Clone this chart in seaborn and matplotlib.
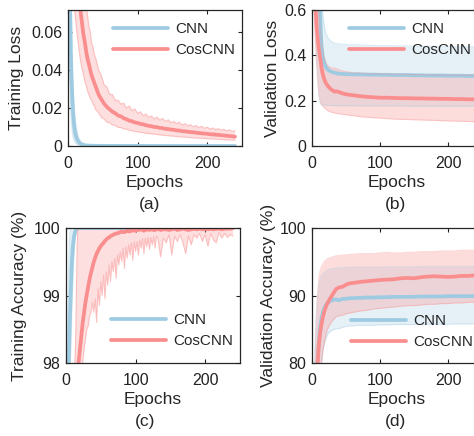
import numpy as np
import matplotlib
matplotlib.use("Agg")
import matplotlib.pyplot as plt
import seaborn as sns

# ---- data ----
# (a) training loss
a_cnn_ep = [1, 2, 3, 4, 5, 6, 7, 8, 9, 10, 12, 14, 16, 18, 20, 24, 30, 40, 60, 100, 150, 200, 240]
a_cnn_mean = [0.25, 0.14, 0.075, 0.050, 0.036, 0.026, 0.019, 0.014, 0.010, 0.0075, 0.0045, 0.0028, 0.0018,
              0.0012, 0.0008, 0.0004, 0.0002, 0.0001, 0.00005, 0.00003, 0.00002, 0.00002, 0.00001]
a_cnn_up = [0.40, 0.25, 0.15, 0.095, 0.068, 0.050, 0.037, 0.028, 0.021, 0.016, 0.010, 0.0062, 0.0040,
            0.0027, 0.0018, 0.0009, 0.0004, 0.0002, 0.0001, 0.00006, 0.00004, 0.00004, 0.00003]
a_cnn_lo = [0.12, 0.065, 0.030, 0.018, 0.012, 0.008, 0.005, 0.0035, 0.0025, 0.0018, 0.0010, 0.0006, 0.0004,
            0.0002, 0.0001, 0.00005, 0.00003, 0.00002, 0.00001, 0.0, 0.0, 0.0, 0.0]

a_cos_ep = [1, 4, 8, 12, 16, 18, 20, 22, 24, 26, 28, 30, 32, 34, 36, 38,
            40, 44, 48, 52, 56, 60, 64, 68, 72, 76, 80, 84, 88, 92, 96, 100,
            104, 108, 112, 116, 120, 124, 128, 132, 136, 140, 144, 148, 152, 156, 160,
            164, 168, 172, 176, 180, 184, 188, 192, 196, 200, 204, 208, 212, 216, 220,
            224, 228, 232, 236, 240]
a_cos_mean = [0.200, 0.160, 0.120, 0.095, 0.078, 0.071, 0.065, 0.059, 0.055, 0.050, 0.046, 0.043, 0.040, 0.037, 0.035, 0.033,
              0.031, 0.027, 0.0245, 0.0222, 0.0205, 0.0192, 0.0180, 0.0172, 0.0160, 0.0156, 0.0146, 0.0141, 0.0133, 0.0130, 0.0124, 0.0121,
              0.0116, 0.0114, 0.0109, 0.0106, 0.0104, 0.0100, 0.0099, 0.0095, 0.0094, 0.0090, 0.0089, 0.0086, 0.0085, 0.0082, 0.0081,
              0.0078, 0.0077, 0.0075, 0.0073, 0.0072, 0.0070, 0.0068, 0.0067, 0.0065, 0.0064, 0.0062, 0.0061, 0.0060, 0.0058, 0.0057,
              0.0055, 0.0054, 0.0052, 0.0051, 0.0049]
a_cos_up = [0.290, 0.232, 0.174, 0.140, 0.115, 0.105, 0.096, 0.088, 0.080, 0.074, 0.069, 0.063, 0.060, 0.054, 0.052, 0.048,
            0.046, 0.040, 0.037, 0.032, 0.031, 0.027, 0.027, 0.024, 0.024, 0.022, 0.0225, 0.020, 0.021, 0.0185, 0.0195, 0.0172,
            0.0180, 0.0160, 0.0168, 0.0150, 0.0158, 0.0142, 0.0152, 0.0136, 0.0145, 0.0128, 0.0138, 0.0122, 0.0130, 0.0117, 0.0125,
            0.0110, 0.0118, 0.0106, 0.0112, 0.0101, 0.0108, 0.0097, 0.0104, 0.0093, 0.0099, 0.0089, 0.0095, 0.0086, 0.0091, 0.0083,
            0.0088, 0.0079, 0.0085, 0.0076, 0.0080]
a_cos_lo = [0.125, 0.100, 0.078, 0.062, 0.050, 0.045, 0.041, 0.038, 0.034, 0.032, 0.029, 0.027, 0.025, 0.024, 0.022, 0.021,
            0.019, 0.0175, 0.015, 0.0142, 0.0125, 0.0122, 0.0110, 0.0108, 0.0098, 0.0097, 0.0090, 0.0088, 0.0082, 0.0081, 0.0076, 0.0075,
            0.0071, 0.0070, 0.0066, 0.0066, 0.0063, 0.0062, 0.0060, 0.0058, 0.0057, 0.0055, 0.0054, 0.0052, 0.0052, 0.0049, 0.0049,
            0.0047, 0.0047, 0.0045, 0.0044, 0.0043, 0.0042, 0.0041, 0.0040, 0.0039, 0.0038, 0.0037, 0.0037, 0.0036, 0.0035, 0.0034,
            0.0033, 0.0032, 0.0032, 0.0031, 0.0030]

# (b) validation loss
b_ep = [1, 3, 5, 6, 7, 8, 9, 10, 11, 12, 13, 14, 16, 18, 20, 22, 24, 26, 28, 30, 33, 36, 40, 45, 50, 55, 60,
        70, 80, 90, 100, 110, 120, 130, 140, 150, 160, 170, 180, 190, 200, 210, 220, 230, 240]
b_cnn_mean = [1.30, 1.10, 0.95, 0.90, 0.86, 0.82, 0.78, 0.75, 0.66, 0.58, 0.50, 0.44, 0.39, 0.365, 0.350, 0.341, 0.335, 0.331, 0.328, 0.326, 0.323, 0.321, 0.319, 0.318, 0.317, 0.317, 0.316,
              0.316, 0.315, 0.315, 0.314, 0.314, 0.313, 0.313, 0.313, 0.312, 0.312, 0.311, 0.311, 0.311, 0.310, 0.310, 0.310, 0.309, 0.309]
b_cnn_up = [1.60, 1.40, 1.20, 1.15, 1.10, 1.05, 1.00, 0.98, 0.95, 0.90, 0.78, 0.66, 0.58, 0.53, 0.500, 0.485, 0.475, 0.468, 0.462, 0.458, 0.455, 0.452, 0.450, 0.449, 0.448, 0.447, 0.447,
            0.446, 0.445, 0.444, 0.443, 0.443, 0.442, 0.442, 0.441, 0.441, 0.440, 0.440, 0.440, 0.439, 0.439, 0.439, 0.438, 0.438, 0.438]
b_cnn_lo = [1.00, 0.70, 0.50, 0.44, 0.38, 0.32, 0.27, 0.23, 0.20, 0.19, 0.185, 0.182, 0.180, 0.180, 0.180, 0.179, 0.179, 0.179, 0.179, 0.179, 0.178, 0.178, 0.178, 0.178, 0.178, 0.178, 0.178,
            0.177, 0.177, 0.177, 0.177, 0.177, 0.177, 0.177, 0.176, 0.176, 0.176, 0.176, 0.176, 0.176, 0.176, 0.176, 0.176, 0.176, 0.176]
b_cos_mean = [1.20, 0.85, 0.65, 0.57, 0.52, 0.49, 0.455, 0.43, 0.41, 0.39, 0.37, 0.345, 0.315, 0.295, 0.280, 0.270, 0.262, 0.256, 0.250, 0.246, 0.240, 0.241, 0.238, 0.232, 0.228, 0.226, 0.224,
              0.220, 0.217, 0.215, 0.213, 0.213, 0.212, 0.211, 0.211, 0.210, 0.210, 0.209, 0.209, 0.208, 0.208, 0.207, 0.207, 0.206, 0.206]
b_cos_up = [1.50, 1.10, 0.90, 0.82, 0.76, 0.70, 0.65, 0.60, 0.56, 0.52, 0.49, 0.46, 0.42, 0.39, 0.370, 0.360, 0.352, 0.348, 0.345, 0.342, 0.345, 0.340, 0.336, 0.332, 0.328, 0.326, 0.324,
            0.322, 0.320, 0.319, 0.318, 0.317, 0.317, 0.316, 0.316, 0.315, 0.315, 0.314, 0.314, 0.313, 0.313, 0.313, 0.312, 0.312, 0.312]
b_cos_lo = [0.90, 0.60, 0.45, 0.40, 0.35, 0.30, 0.27, 0.24, 0.22, 0.20, 0.19, 0.185, 0.175, 0.168, 0.162, 0.158, 0.155, 0.152, 0.150, 0.148, 0.146, 0.144, 0.142, 0.140, 0.138, 0.136, 0.134,
            0.130, 0.127, 0.125, 0.123, 0.121, 0.119, 0.118, 0.117, 0.116, 0.115, 0.114, 0.113, 0.112, 0.111, 0.110, 0.109, 0.108, 0.107]

# (c) training accuracy
c_cnn_ep = [1, 2, 3, 4, 5, 6, 7, 8, 9, 10, 11, 12, 13, 14, 16, 18, 20, 30, 60, 120, 240]
c_cnn_mean = [94.0, 96.0, 97.3, 98.0, 98.45, 98.8, 99.1, 99.4, 99.6, 99.75, 99.84, 99.9, 99.94, 99.97, 99.99,
              100.0, 100.0, 100.0, 100.0, 100.0, 100.0]
c_cnn_up = [97.0, 98.2, 99.0, 99.55, 99.85, 99.97, 100.0, 100.0, 100.0, 100.0, 100.0, 100.0, 100.0, 100.0, 100.0,
            100.0, 100.0, 100.0, 100.0, 100.0, 100.0]
c_cnn_lo = [91.0, 93.5, 95.5, 96.6, 97.3, 97.8, 98.2, 98.6, 98.95, 99.25, 99.5, 99.65, 99.78, 99.88, 99.95,
            99.99, 100.0, 100.0, 100.0, 100.0, 100.0]

c_cos_ep = [1, 6, 10, 12, 14, 15, 16, 17, 18, 19, 20, 21, 22, 23, 24, 26, 28, 30, 32, 34, 36, 38,
            40, 42, 44, 46, 48, 50, 52, 54, 56, 58, 60, 62, 64, 66, 68, 70, 72, 74, 76, 78, 80, 82, 84,
            86, 88, 90, 92, 94, 96, 98, 100, 102, 104, 106, 108, 110, 112, 114, 116, 118, 120, 122, 124,
            126, 128, 130,
            132, 136, 140, 144, 148, 152, 156, 160, 164, 168, 172, 176, 180, 184, 188, 192, 196, 200,
            204, 208, 212, 216, 220, 224, 228, 232, 236, 240]
c_cos_mean = [90.0, 95.0, 96.5, 97.1, 97.5, 97.65, 97.8, 97.9, 98.0, 98.1, 98.2, 98.3, 98.4, 98.5, 98.6, 98.75, 98.9, 99.02, 99.14, 99.25, 99.34, 99.42,
              99.5, 99.56, 99.62, 99.66, 99.7, 99.73, 99.76, 99.78, 99.81, 99.83, 99.85, 99.86, 99.88, 99.89, 99.9, 99.91, 99.92, 99.92, 99.93, 99.94, 99.95, 99.94, 99.94,
              99.95, 99.96, 99.95, 99.95, 99.96, 99.97, 99.96, 99.96, 99.97, 99.97, 99.98, 99.98, 99.97, 99.96, 99.97, 99.98, 99.98, 99.97, 99.98, 99.98,
              99.97, 99.97, 99.98,
              99.99, 99.97, 99.98, 99.98, 99.97, 99.98, 99.99, 99.97, 99.98, 99.99, 99.98, 99.97, 99.98, 99.99, 99.98, 99.99, 99.98, 99.99,
              99.98, 99.99, 99.98, 99.99, 99.99, 99.98, 99.99, 99.99, 99.99, 100.0]
c_cos_up = [95.0, 97.0, 97.4, 97.8, 98.4, 99.1, 99.7, 100.0, 100.0, 100.0, 100.0, 100.0, 100.0, 100.0, 100.0, 100.0, 100.0, 100.0, 100.0, 100.0, 100.0, 100.0,
            100.0, 100.0, 100.0, 100.0, 100.0, 100.0, 100.0, 100.0, 100.0, 100.0, 100.0, 100.0, 100.0, 100.0, 100.0, 100.0, 100.0, 100.0, 100.0, 100.0, 100.0, 100.0, 100.0,
            100.0, 100.0, 100.0, 100.0, 100.0, 100.0, 100.0, 100.0, 100.0, 100.0, 100.0, 100.0, 100.0, 100.0, 100.0, 100.0, 100.0, 100.0, 100.0, 100.0,
            100.0, 100.0, 100.0,
            100.0, 100.0, 100.0, 100.0, 100.0, 100.0, 100.0, 100.0, 100.0, 100.0, 100.0, 100.0, 100.0, 100.0, 100.0, 100.0, 100.0, 100.0,
            100.0, 100.0, 100.0, 100.0, 100.0, 100.0, 100.0, 100.0, 100.0, 100.0]
c_cos_lo = [80.0, 90.0, 93.0, 94.0, 95.0, 95.5, 96.0, 96.4, 96.7, 97.0, 97.2, 97.4, 97.6, 97.8, 98.0, 98.2, 98.35, 98.5, 98.55, 98.7, 98.75, 98.9,
            98.75, 98.95, 98.6, 99.1, 98.85, 99.2, 99.0, 99.3, 98.95, 99.35, 99.15, 99.45, 99.2, 99.5, 99.35, 99.55, 99.25, 99.6, 99.45, 99.65, 99.5, 99.7, 99.4,
            99.72, 99.55, 99.75, 99.6, 99.78, 99.52, 99.8, 99.65, 99.8, 99.6, 99.82, 99.7, 99.84, 99.62, 99.85, 99.72, 99.86, 99.68, 99.86, 99.75,
            99.87, 99.7, 99.88,
            99.85, 99.57, 99.85, 99.78, 99.9, 99.6, 99.88, 99.8, 99.9, 99.78, 99.62, 99.88, 99.75, 99.9, 99.85, 99.92, 99.8, 99.9,
            99.73, 99.92, 99.82, 99.78, 99.93, 99.85, 99.92, 99.86, 99.9, 99.88]

# (d) validation accuracy
d_ep = [1, 4, 6, 8, 10, 12, 14, 16, 18, 20, 22, 24, 27, 30, 33, 36, 40, 45, 50, 55, 60,
        70, 80, 90, 100, 110, 120, 130, 140, 150, 160, 170, 180, 190, 200, 210, 220, 230, 240]
d_cnn_mean = [55.0, 70.0, 76.0, 80.0, 83.0, 85.3, 86.6, 87.5, 88.1, 88.5, 88.8, 89.0, 89.2, 89.3, 89.4, 89.4, 89.3, 89.5, 89.5, 89.6, 89.6,
              89.65, 89.7, 89.7, 89.75, 89.75, 89.8, 89.8, 89.8, 89.8, 89.85, 89.85, 89.85, 89.85, 89.9, 89.9, 89.9, 89.9, 89.9]
d_cnn_up = [70.0, 82.0, 87.0, 90.0, 91.5, 92.4, 92.9, 93.2, 93.4, 93.6, 93.7, 93.8, 93.9, 94.0, 94.0, 94.1, 94.1, 94.1, 94.15, 94.2, 94.2,
            94.2, 94.2, 94.2, 94.2, 94.25, 94.25, 94.25, 94.25, 94.25, 94.3, 94.3, 94.3, 94.3, 94.3, 94.3, 94.3, 94.3, 94.3]
d_cnn_lo = [40.0, 58.0, 65.0, 70.0, 74.5, 78.0, 80.3, 81.8, 82.8, 83.5, 84.0, 84.4, 84.7, 84.9, 85.0, 85.1, 85.1, 85.3, 85.4, 85.5, 85.5,
            85.6, 85.6, 85.6, 85.65, 85.65, 85.7, 85.7, 85.7, 85.7, 85.7, 85.75, 85.75, 85.75, 85.75, 85.8, 85.8, 85.8, 85.8]
d_cos_mean = [50.0, 68.0, 75.0, 79.5, 82.6, 84.5, 85.8, 86.8, 87.6, 88.2, 88.7, 89.1, 89.6, 90.1, 90.6, 91.0, 91.2, 91.3, 91.6, 91.8, 91.85,
              92.0, 92.1, 92.2, 92.3, 92.35, 92.4, 92.55, 92.6, 92.55, 92.7, 92.8, 92.85, 92.8, 92.75, 92.8, 92.9, 92.9, 93.0]
d_cos_up = [60.0, 78.0, 85.0, 89.5, 92.5, 93.7, 94.3, 94.7, 95.0, 95.2, 95.4, 95.5, 95.6, 95.7, 95.8, 95.9, 95.9, 96.0, 96.0, 96.1, 96.1,
            96.2, 96.2, 96.2, 96.3, 96.4, 96.3, 96.3, 96.4, 96.4, 96.5, 96.5, 96.5, 96.6, 96.6, 96.6, 96.7, 96.7, 96.7]
d_cos_lo = [40.0, 58.0, 65.0, 70.0, 74.0, 77.5, 80.0, 81.8, 83.0, 84.0, 84.8, 85.3, 85.8, 86.3, 86.6, 86.9, 87.0, 87.1, 87.3, 87.4, 87.5,
            87.7, 87.8, 88.0, 88.1, 88.2, 88.3, 88.4, 88.5, 88.5, 88.6, 88.7, 88.7, 88.8, 88.8, 88.9, 88.9, 89.0, 89.0]

x_ticks = [0, 100, 200]

#---------------------------------------------
sns.set_style("ticks")
plt.rcParams['font.family'] = ['Liberation Sans', 'DejaVu Sans']
plt.rcParams['axes.unicode_minus'] = False

CNN_C = "#9ecbe2"
COS_C = "#fa8e8e"


def draw_band(ax, ep, mean, up, lo, color, label, fill_alpha, edge_alpha):
    ax.fill_between(ep, lo, up, color=color, alpha=fill_alpha, linewidth=0)
    ax.plot(ep, up, color=color, alpha=edge_alpha, lw=0.8)
    ax.plot(ep, lo, color=color, alpha=edge_alpha, lw=0.8)
    sns.lineplot(x=ep, y=mean, ax=ax, color=color, lw=2.7, label=label)


def style_axis(ax, ylim, yticks, yticklabels, ylabel, ylabel_x, caption, cap_x, leg_xy):
    ax.set_xlim(0, 250)
    ax.set_ylim(*ylim)
    ax.set_xticks(x_ticks)
    ax.set_xticklabels([str(t) for t in x_ticks])
    ax.set_yticks(yticks)
    ax.set_yticklabels(yticklabels)
    ax.tick_params(direction='in', top=True, right=True, length=3, width=0.8,
                   labelsize=11.5, colors='#222222')
    ax.tick_params(axis='x', pad=7)
    ax.tick_params(axis='y', pad=4)
    for s in ax.spines.values():
        s.set_color('#262626')
        s.set_linewidth(0.9)
    ax.set_xlabel('Epochs', fontsize=12.5, labelpad=3)
    ax.set_ylabel(ylabel, fontsize=12.5)
    ax.yaxis.set_label_coords(ylabel_x, 0.5)
    ax.text(cap_x, -0.43, caption, transform=ax.transAxes, ha='center', va='center', fontsize=12.5)
    ax.legend(loc='upper left', bbox_to_anchor=leg_xy, frameon=False, fontsize=11,
              handlelength=3.6, handletextpad=0.45, labelspacing=0.45,
              borderaxespad=0, borderpad=0)


fig = plt.figure(figsize=(4.74, 4.36), dpi=100)
W, H = 474.0, 436.0
ax_a = fig.add_axes([68 / W, 1 - 146 / H, 174 / W, 136 / H])
ax_b = fig.add_axes([312 / W, 1 - 146 / H, 170 / W, 136 / H])
ax_c = fig.add_axes([66 / W, 1 - 363 / H, 174 / W, 135 / H])
ax_d = fig.add_axes([312 / W, 1 - 363 / H, 170 / W, 135 / H])

# (a)
draw_band(ax_a, a_cnn_ep, a_cnn_mean, a_cnn_up, a_cnn_lo, CNN_C, 'CNN', 0.25, 0.35)
draw_band(ax_a, a_cos_ep, a_cos_mean, a_cos_up, a_cos_lo, COS_C, 'CosCNN', 0.28, 0.5)
style_axis(ax_a, (0, 0.0715), [0, 0.02, 0.04, 0.06], ['0', '0.02', '0.04', '0.06'],
           'Training Loss', -0.25, '(a)', 0.47, (0.26, 0.91))

# (b)
draw_band(ax_b, b_ep, b_cnn_mean, b_cnn_up, b_cnn_lo, CNN_C, 'CNN', 0.25, 0.35)
draw_band(ax_b, b_ep, b_cos_mean, b_cos_up, b_cos_lo, COS_C, 'CosCNN', 0.3, 0.35)
style_axis(ax_b, (0, 0.6), [0, 0.2, 0.4, 0.6], ['0', '0.2', '0.4', '0.6'],
           'Validation Loss', -0.19, '(b)', 0.494, (0.22, 0.91))

# (c)
draw_band(ax_c, c_cnn_ep, c_cnn_mean, c_cnn_up, c_cnn_lo, CNN_C, 'CNN', 0.25, 0.35)
draw_band(ax_c, c_cos_ep, c_cos_mean, c_cos_up, c_cos_lo, COS_C, 'CosCNN', 0.28, 0.5)
style_axis(ax_c, (98, 100), [98, 99, 100], ['98', '99', '100'],
           'Training Accuracy (%)', -0.225, '(c)', 0.455, (0.26, 0.37))

# (d)
draw_band(ax_d, d_ep, d_cnn_mean, d_cnn_up, d_cnn_lo, CNN_C, 'CNN', 0.25, 0.35)
draw_band(ax_d, d_ep, d_cos_mean, d_cos_up, d_cos_lo, COS_C, 'CosCNN', 0.3, 0.35)
style_axis(ax_d, (80, 100), [80, 90, 100], ['80', '90', '100'],
           'Validation Accuracy (%)', -0.21, '(d)', 0.494, (0.23, 0.36))

fig.savefig('out.png', dpi=100)
